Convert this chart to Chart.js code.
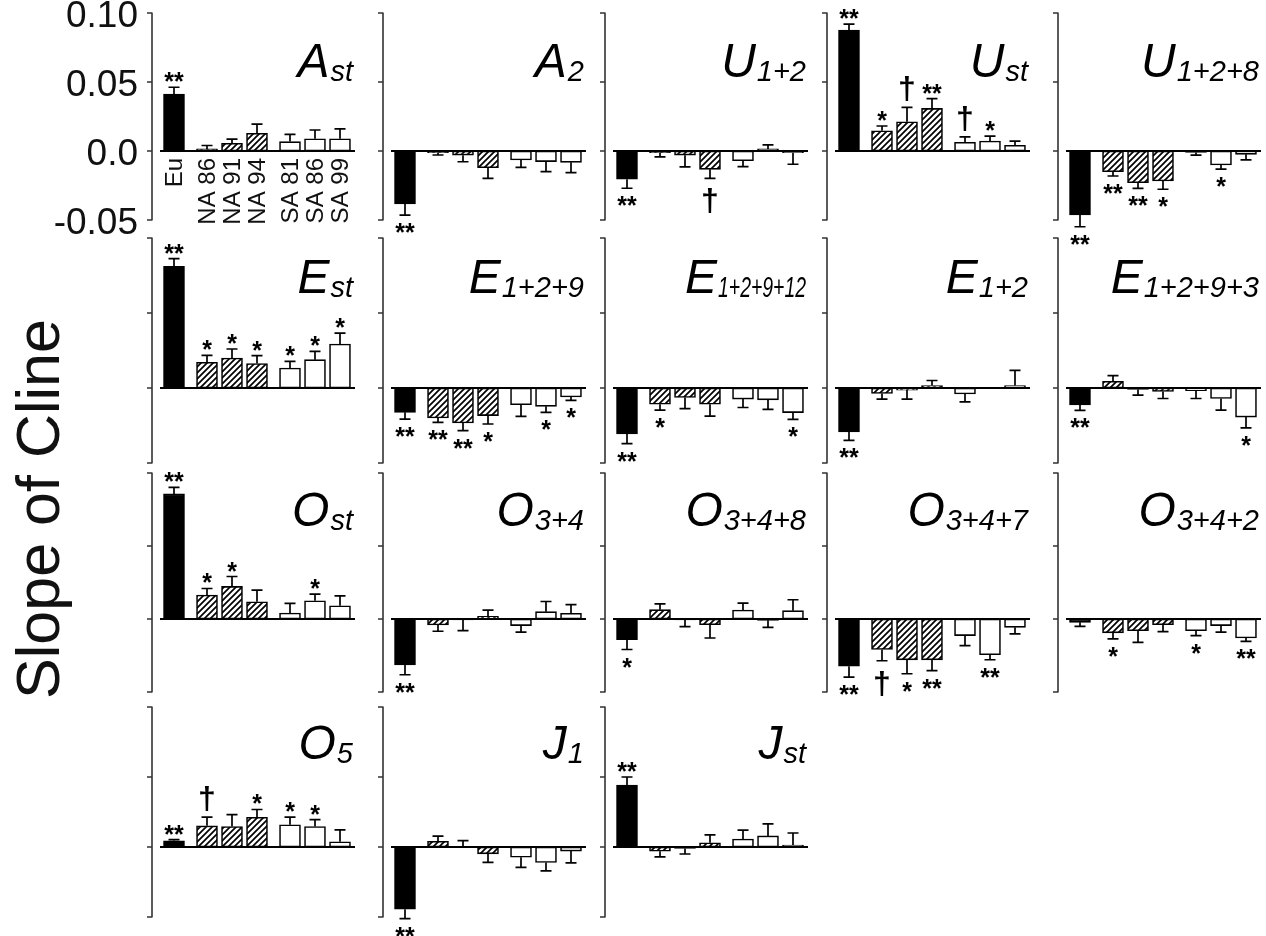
<!DOCTYPE html>
<html><head><meta charset="utf-8">
<script src="https://cdn.jsdelivr.net/npm/chart.js@4.4.1/dist/chart.umd.min.js"></script>
<style>
html,body{margin:0;padding:0;background:#fff;width:1266px;height:936px;overflow:hidden;}
#wrap{position:relative;width:1266px;height:936px;overflow:hidden;}
canvas{position:absolute;}
#ytitle{position:absolute;width:460px;height:60px;line-height:60px;text-align:center;
  font-family:"Liberation Sans",Arial,sans-serif;font-size:61px;color:#111;white-space:nowrap;
  transform:rotate(-90deg);transform-origin:50% 50%;}
</style></head>
<body><div id="wrap"><div id="ytitle">Slope of Cline</div></div>
<script>
// ---- categories / ticks ----
const categories = ['Eu','NA 86','NA 91','NA 94','SA 81','SA 86','SA 99'];
const yTickValues = [-0.05, 0, 0.05, 0.10];
const yTickLabels = ['-0.05','0.0','0.05','0.10'];

// ---- slopes, error bars, significance (order = categories) ----
const A_st      = [0.0413, 0.0015, 0.0056, 0.0128, 0.0068, 0.0089, 0.0089];
const A_st_se   = [0.0049, 0.0025, 0.0030, 0.0067, 0.0053, 0.0063, 0.0072];
const A_st_sig  = ['**','','','','','',''];

const A_2       = [-0.0384, -0.0012, -0.0030, -0.0121, -0.0065, -0.0077, -0.0082];
const A_2_se    = [0.0080, 0.0017, 0.0048, 0.0077, 0.0053, 0.0072, 0.0075];
const A_2_sig   = ['**','','','','','',''];

const U_12      = [-0.0205, -0.0012, -0.0030, -0.0133, -0.0070, 0.0015, -0.0012];
const U_12_se   = [0.0065, 0.0030, 0.0085, 0.0065, 0.0043, 0.0030, 0.0084];
const U_12_sig  = ['**','','','†','','',''];

const U_st      = [0.0877, 0.0147, 0.0212, 0.0309, 0.0063, 0.0072, 0.0041];
const U_st_se   = [0.0043, 0.0034, 0.0104, 0.0070, 0.0040, 0.0036, 0.0031];
const U_st_sig  = ['**','*','†','**','†','*',''];

const U_128     = [-0.0464, -0.0150, -0.0230, -0.0217, -0.0010, -0.0101, -0.0024];
const U_128_se  = [0.0085, 0.0031, 0.0041, 0.0060, 0.0020, 0.0031, 0.0041];
const U_128_sig = ['**','**','**','*','','*',''];

const E_st      = [0.0811, 0.0171, 0.0200, 0.0163, 0.0133, 0.0189, 0.0293];
const E_st_se   = [0.0051, 0.0047, 0.0060, 0.0053, 0.0045, 0.0055, 0.0073];
const E_st_sig  = ['**','*','*','*','*','*','*'];

const E_129     = [-0.0162, -0.0200, -0.0233, -0.0184, -0.0111, -0.0122, -0.0060];
const E_129_se  = [0.0045, 0.0029, 0.0051, 0.0056, 0.0078, 0.0040, 0.0022];
const E_129_sig = ['**','**','**','*','','*','*'];

const E_12912     = [-0.0306, -0.0108, -0.0063, -0.0108, -0.0074, -0.0079, -0.0164];
const E_12912_se  = [0.0065, 0.0040, 0.0074, 0.0079, 0.0056, 0.0063, 0.0045];
const E_12912_sig = ['**','*','','','','','*'];

const E_12      = [-0.0293, -0.0036, -0.0014, 0.0016, -0.0040, 0.0003, 0.0016];
const E_12_se   = [0.0056, 0.0038, 0.0060, 0.0034, 0.0052, 0.0000, 0.0101];
const E_12_sig  = ['**','','','','','',''];

const E_1293     = [-0.0113, 0.0045, -0.0010, -0.0023, -0.0018, -0.0070, -0.0194];
const E_1293_se  = [0.0036, 0.0038, 0.0038, 0.0047, 0.0052, 0.0077, 0.0072];
const E_1293_sig = ['**','','','','','','*'];

const O_st      = [0.0857, 0.0164, 0.0223, 0.0118, 0.0041, 0.0125, 0.0091];
const O_st_se   = [0.0045, 0.0045, 0.0068, 0.0080, 0.0066, 0.0045, 0.0068];
const O_st_sig  = ['**','*','*','','','*',''];

const O_34      = [-0.0314, -0.0041, -0.0007, 0.0018, -0.0045, 0.0050, 0.0039];
const O_34_se   = [0.0068, 0.0043, 0.0073, 0.0043, 0.0045, 0.0070, 0.0059];
const O_34_sig  = ['**','','','','','',''];

const O_348     = [-0.0141, 0.0064, -0.0007, -0.0039, 0.0061, -0.0009, 0.0057];
const O_348_se  = [0.0068, 0.0039, 0.0045, 0.0091, 0.0048, 0.0048, 0.0075];
const O_348_sig = ['*','','','','','',''];

const O_347     = [-0.0323, -0.0209, -0.0280, -0.0280, -0.0114, -0.0245, -0.0057];
const O_347_se  = [0.0075, 0.0077, 0.0095, 0.0073, 0.0068, 0.0034, 0.0045];
const O_347_sig = ['**','†','*','**','','**',''];

const O_342     = [-0.0023, -0.0095, -0.0080, -0.0039, -0.0080, -0.0045, -0.0130];
const O_342_se  = [0.0027, 0.0041, 0.0080, 0.0048, 0.0034, 0.0045, 0.0023];
const O_342_sig = ['','*','','','*','','**'];

const O_5       = [0.0044, 0.0151, 0.0146, 0.0212, 0.0159, 0.0146, 0.0037];
const O_5_se    = [0.0008, 0.0063, 0.0085, 0.0056, 0.0054, 0.0049, 0.0085];
const O_5_sig   = ['**','†','','*','*','*',''];

const J_1       = [-0.0444, 0.0041, 0.0005, -0.0049, -0.0073, -0.0110, -0.0029];
const J_1_se    = [0.0068, 0.0037, 0.0041, 0.0061, 0.0073, 0.0061, 0.0085];
const J_1_sig   = ['**','','','','','',''];

const J_st      = [0.0443, -0.0030, -0.0010, 0.0030, 0.0057, 0.0079, 0.0014];
const J_st_se   = [0.0057, 0.0040, 0.0040, 0.0057, 0.0064, 0.0086, 0.0086];
const J_st_sig  = ['**','','','','','',''];

// ---- panels ----
const panels = [
  {main:'A', sub:'st',       v:A_st,    e:A_st_se,    s:A_st_sig,    row:0, col:0},
  {main:'A', sub:'2',        v:A_2,     e:A_2_se,     s:A_2_sig,     row:0, col:1},
  {main:'U', sub:'1+2',      v:U_12,    e:U_12_se,    s:U_12_sig,    row:0, col:2},
  {main:'U', sub:'st',       v:U_st,    e:U_st_se,    s:U_st_sig,    row:0, col:3},
  {main:'U', sub:'1+2+8',    v:U_128,   e:U_128_se,   s:U_128_sig,   row:0, col:4},
  {main:'E', sub:'st',       v:E_st,    e:E_st_se,    s:E_st_sig,    row:1, col:0},
  {main:'E', sub:'1+2+9',    v:E_129,   e:E_129_se,   s:E_129_sig,   row:1, col:1},
  {main:'E', sub:'1+2+9+12', v:E_12912, e:E_12912_se, s:E_12912_sig, row:1, col:2, subMax:88},
  {main:'E', sub:'1+2',      v:E_12,    e:E_12_se,    s:E_12_sig,    row:1, col:3},
  {main:'E', sub:'1+2+9+3',  v:E_1293,  e:E_1293_se,  s:E_1293_sig,  row:1, col:4},
  {main:'O', sub:'st',       v:O_st,    e:O_st_se,    s:O_st_sig,    row:2, col:0},
  {main:'O', sub:'3+4',      v:O_34,    e:O_34_se,    s:O_34_sig,    row:2, col:1},
  {main:'O', sub:'3+4+8',    v:O_348,   e:O_348_se,   s:O_348_sig,   row:2, col:2},
  {main:'O', sub:'3+4+7',    v:O_347,   e:O_347_se,   s:O_347_sig,   row:2, col:3},
  {main:'O', sub:'3+4+2',    v:O_342,   e:O_342_se,   s:O_342_sig,   row:2, col:4},
  {main:'O', sub:'5',        v:O_5,     e:O_5_se,     s:O_5_sig,     row:3, col:0},
  {main:'J', sub:'1',        v:J_1,     e:J_1_se,     s:J_1_sig,     row:3, col:1},
  {main:'J', sub:'st',       v:J_st,    e:J_st_se,    s:J_st_sig,    row:3, col:2}
];

// ---- layout (pixels) ----
const colAxisX = [152, 383, 605, 827, 1058];
const rowTop   = [13, 238, 473, 707];
const rowBot   = [220, 463, 692, 917];
const rowTitleOff = [64, 55, 53, 52];
const PLOT_W = 195, GAP = 8, PAD_T = 30, PAD_B = 45, PAD_R = 25;
const X_MIN = -0.56, X_MAX = 7.24;
const FONT = '"Liberation Sans", Arial, Helvetica, sans-serif';

// y title placement
(function(){
  const t = document.getElementById('ytitle');
  const cx = 38, cy = 509;
  t.style.left = (cx - 230) + 'px';
  t.style.top = (cy - 30) + 'px';
})();

// x positions derived from category groups (Eu | NA | SA)
const groupOf = categories.map(c => c.split(' ')[0]);
const xPos = [];
{ let g = 0; groupOf.forEach((grp, i) => { if (i > 0 && grp !== groupOf[i-1]) g++; xPos.push(i + g * 0.32); }); }

function makeHatch(ctx) {
  const c = document.createElement('canvas'); c.width = 6; c.height = 6;
  const g = c.getContext('2d');
  g.fillStyle = '#fff'; g.fillRect(0, 0, 6, 6);
  g.strokeStyle = '#000'; g.lineWidth = 1.7; g.lineCap = 'square';
  g.beginPath();
  g.moveTo(0, 6); g.lineTo(6, 0);
  g.moveTo(-3, 3); g.lineTo(3, -3);
  g.moveTo(3, 9); g.lineTo(9, 3);
  g.stroke();
  return ctx.createPattern(c, 'repeat');
}

function textCenterBaseline(ctx, txt, centerY) {
  const m = ctx.measureText(txt);
  return centerY + (m.actualBoundingBoxAscent - m.actualBoundingBoxDescent) / 2;
}

const decor = {
  id: 'decor',
  afterDatasetsDraw(chart) {
    const p = chart.options.plugins.decor.panel;
    const ctx = chart.ctx;
    const xs = chart.scales.x, ys = chart.scales.y;
    const area = chart.chartArea;
    const y0 = ys.getPixelForValue(0);
    ctx.save();
    // zero baseline
    ctx.strokeStyle = '#000'; ctx.lineWidth = 2;
    ctx.beginPath(); ctx.moveTo(xs.getPixelForValue(X_MIN), y0); ctx.lineTo(xs.getPixelForValue(X_MAX), y0); ctx.stroke();
    // y axis with outward ticks
    const ax = xs.getPixelForValue(X_MIN) - GAP;
    ctx.strokeStyle = '#333'; ctx.lineWidth = 1.6;
    ctx.beginPath();
    ctx.moveTo(ax, ys.getPixelForValue(ys.max)); ctx.lineTo(ax, ys.getPixelForValue(ys.min));
    ys.ticks.forEach(t => { const ty = ys.getPixelForValue(t.value); ctx.moveTo(ax - 5, ty); ctx.lineTo(ax + 0.5, ty); });
    ctx.stroke();
    // tick labels and category labels in first panel
    if (p.row === 0 && p.col === 0) {
      ctx.fillStyle = '#111';
      ctx.font = '37px ' + FONT; ctx.textAlign = 'right'; ctx.textBaseline = 'middle';
      yTickValues.forEach((v, i) => ctx.fillText(yTickLabels[i], ax - 14, ys.getPixelForValue(v) + 4));
      ctx.font = '24px ' + FONT;
      categories.forEach((c, i) => {
        ctx.save();
        ctx.translate(xs.getPixelForValue(xPos[i]) + 1, y0 + 7);
        ctx.rotate(-Math.PI / 2);
        ctx.textAlign = 'right'; ctx.textBaseline = 'middle';
        ctx.fillText(c, 0, 0);
        ctx.restore();
      });
    }
    // error bars + significance
    ctx.strokeStyle = '#000'; ctx.lineWidth = 1.7; ctx.fillStyle = '#000';
    p.v.forEach((v, i) => {
      const x = xs.getPixelForValue(xPos[i]);
      const dir = v >= 0 ? 1 : -1;
      const yb = ys.getPixelForValue(v);
      const ye = ys.getPixelForValue(v + dir * p.e[i]);
      if (p.e[i] > 0) {
        ctx.beginPath(); ctx.moveTo(x, yb); ctx.lineTo(x, ye);
        ctx.moveTo(x - 5.5, ye); ctx.lineTo(x + 5.5, ye); ctx.stroke();
      }
      const s = p.s[i];
      if (s) {
        const dag = s === '†';
        ctx.font = dag ? 'bold 32px ' + FONT : 'bold 25px ' + FONT;
        ctx.textAlign = 'center'; ctx.textBaseline = 'alphabetic';
        const m = ctx.measureText(s);
        const h = m.actualBoundingBoxAscent + m.actualBoundingBoxDescent;
        let cy;
        if (dir > 0) cy = ye - 5 - h / 2;
        else cy = ye + (dag ? 10 : 8) + h / 2;
        ctx.fillText(s, x, textCenterBaseline(ctx, s, cy));
      }
    });
    // panel title with italic subscript
    const baseY = area.top + rowTitleOff[p.row];
    const right = xs.getPixelForValue(X_MAX) - 2;
    ctx.fillStyle = '#000'; ctx.textBaseline = 'alphabetic';
    ctx.font = 'italic 29px ' + FONT;
    let subW = ctx.measureText(p.sub).width;
    if (p.subMax && subW > p.subMax) subW = p.subMax;
    ctx.textAlign = 'left';
    ctx.fillText(p.sub, right - subW, baseY + 4, subW);
    ctx.font = 'italic 48px ' + FONT;
    ctx.textAlign = 'right';
    ctx.fillText(p.main, right - subW - 1, baseY);
    ctx.restore();
  }
};

const wrap = document.getElementById('wrap');
panels.forEach(p => {
  const padL = (p.col === 0 ? 150 : 20);
  const axisX = colAxisX[p.col];
  const h = rowBot[p.row] - rowTop[p.row];
  const cv = document.createElement('canvas');
  const W = padL + GAP + PLOT_W + PAD_R, H = h + PAD_T + PAD_B;
  cv.width = W; cv.height = H;
  cv.style.width = W + 'px'; cv.style.height = H + 'px';
  cv.style.left = (axisX - padL) + 'px';
  cv.style.top = (rowTop[p.row] - PAD_T) + 'px';
  wrap.appendChild(cv);
  const ctx = cv.getContext('2d');
  const hatch = makeHatch(ctx);
  const fills = groupOf.map(g => g === 'Eu' ? '#000' : (g === 'NA' ? hatch : '#fff'));
  new Chart(ctx, {
    type: 'bar',
    data: {
      datasets: [{
        data: p.v.map((v, i) => ({x: xPos[i], y: v})),
        backgroundColor: fills,
        borderColor: '#000',
        borderWidth: 1.6,
        borderSkipped: false,
        barThickness: 21
      }]
    },
    options: {
      responsive: false, animation: false, devicePixelRatio: 1,
      layout: {padding: {left: padL + GAP, right: PAD_R, top: PAD_T, bottom: PAD_B}},
      scales: {
        x: {type: 'linear', min: X_MIN, max: X_MAX, offset: false, display: false},
        y: {type: 'linear', min: -0.05, max: 0.10, display: false, ticks: {stepSize: 0.05}}
      },
      plugins: {legend: {display: false}, tooltip: {enabled: false}, decor: {panel: p}}
    },
    plugins: [decor]
  });
});
</script>
</body></html>
